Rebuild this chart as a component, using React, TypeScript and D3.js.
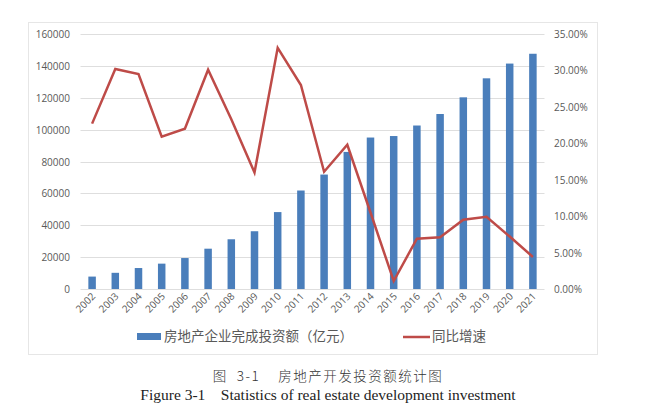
import React from "react";
import * as d3 from "d3";

const years = ["2002","2003","2004","2005","2006","2007","2008","2009","2010","2011","2012","2013","2014","2015","2016","2017","2018","2019","2020","2021"];
const investment = [7791,10154,13158,15909,19423,25289,31203,36242,48259,61796,71804,86013,95036,95979,102581,109799,120264,132194,141443,147602];
const growth = [22.7,30.2,29.5,20.9,22.0,30.1,23.3,16.0,33.1,28.0,16.1,19.8,10.5,1.1,6.9,7.1,9.5,9.9,7.2,4.4];
const leftTicks = [0,20000,40000,60000,80000,100000,120000,140000,160000];
const rightTicks = [0,5,10,15,20,25,30,35];
const barLabel = "房地产企业完成投资额（亿元）";
const lineLabel = "同比增速";
const captionCn = "图  3-1    房地产开发投资额统计图";
const captionEn = "Figure 3-1    Statistics of real estate development investment";

export default function App() {
  const W = 653, H = 410;
  const left = 80.5, right = 544.5, top = 34, bottom = 289;
  const x = d3.scaleBand().domain(years).range([left, right]).paddingInner(0).paddingOuter(0);
  const yL = d3.scaleLinear().domain([0, 160000]).range([bottom, top]);
  const yR = d3.scaleLinear().domain([0, 35]).range([bottom, top]);
  const bw = 7.5;
  const line = d3.line<number>().x((_, i) => x(years[i])! + x.bandwidth() / 2).y(d => yR(d));
  const font = "'Open Sans', 'Noto Sans', sans-serif";
  return (
    <svg width={W} height={H} style={{ position: "absolute", left: 0, top: 0 }}>
      <rect x={0} y={0} width={W} height={H} fill="#fff" />
      <rect x={28.5} y={22.5} width={569} height={332} fill="none" stroke="#e6e6e6" strokeWidth={1} />
      {leftTicks.map(t => (
        <line key={t} x1={left} x2={right} y1={Math.round(yL(t)) + 0.5} y2={Math.round(yL(t)) + 0.5} stroke="#dedede" strokeWidth={1} />
      ))}
      {investment.map((v, i) => (
        <rect key={i} x={x(years[i])! + x.bandwidth() / 2 - bw / 2} y={yL(v)} width={bw} height={yL(0) - yL(v)} fill="#4A7EBB" />
      ))}
      <path d={line(growth) || ""} fill="none" stroke="#BE4B48" strokeWidth={2.5} strokeLinejoin="miter" />
      {leftTicks.map(t => (
        <text key={t} x={70} y={yL(t) + 4} textAnchor="end" fontSize={10} fill="#595959" fontFamily={font}>{t}</text>
      ))}
      {rightTicks.map(t => (
        <text key={t} x={554} y={yR(t) + 4} textAnchor="start" fontSize={10} fill="#595959" fontFamily={font}>{t.toFixed(2) + "%"}</text>
      ))}
      {years.map(yr => {
        const cx = x(yr)! + x.bandwidth() / 2 + 4;
        return (
          <text key={yr} transform={`translate(${cx},${bottom + 8}) rotate(-45)`} textAnchor="end" fontSize={10} fill="#595959" fontFamily={font}>{yr}</text>
        );
      })}
      <rect x={137} y={333} width={24} height={7} fill="#4A7EBB" />
      <text x={164} y={341} fontSize={13.5} fill="#595959" fontFamily="'Noto Sans CJK SC', sans-serif">{barLabel}</text>
      <line x1={403} x2={430} y1={337} y2={337} stroke="#BE4B48" strokeWidth={2.5} />
      <text x={432} y={341} fontSize={13.5} fill="#595959" fontFamily="'Noto Sans CJK SC', sans-serif">{lineLabel}</text>
      <text x={328} y={381} textAnchor="middle" fontSize={13.5} fontWeight={300} letterSpacing={1.5} fill="#333" fontFamily="'Noto Sans CJK SC', serif" xmlSpace="preserve">{captionCn}</text>
      <text x={328} y={400} textAnchor="middle" fontSize={15.5} fill="#222" fontFamily="'Liberation Serif', 'Times New Roman', serif" xmlSpace="preserve">{captionEn}</text>
    </svg>
  );
}
